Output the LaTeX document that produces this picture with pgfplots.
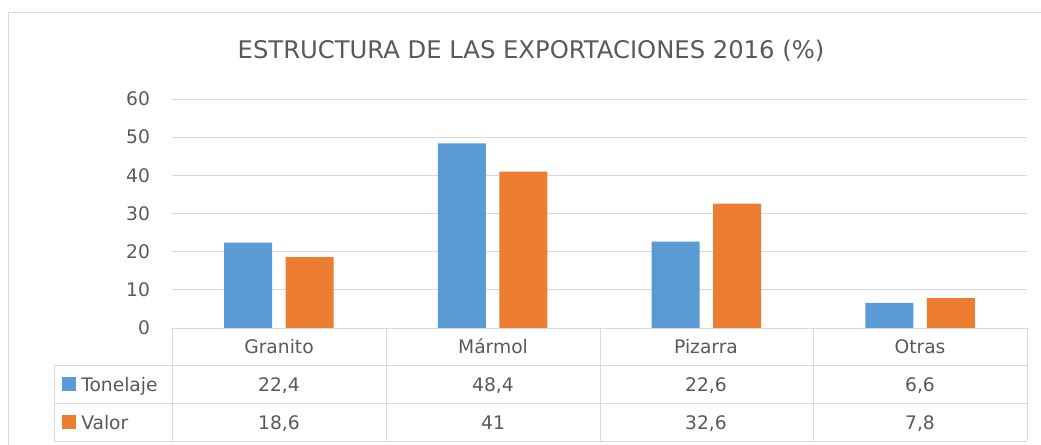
\documentclass[border=0pt]{standalone}
\usepackage{pgfplots}
\pgfplotsset{compat=1.18}
\usepackage{fontspec}
\setmainfont{DejaVu Sans}
\definecolor{txt}{HTML}{595959}
\definecolor{gridc}{HTML}{D9D9D9}
\definecolor{blu}{HTML}{5B9BD5}
\definecolor{ora}{HTML}{ED7D31}

\begin{document}
\begin{tikzpicture}
\useasboundingbox (0,0) rectangle (780.75pt,-333.75pt);
\begin{axis}[
    at={(129pt,-246pt)}, anchor=south west,
    scale only axis, width=641.25pt, height=171.75pt,
    xmin=-0.5, xmax=3.5, ymin=0, ymax=60,
    ytick={0,10,...,60}, xtick=\empty,
    ymajorgrids, grid style={gridc, line width=0.75pt},
    axis line style={draw=none},
    major tick length=0pt,
    tick label style={font=\fontsize{14}{16}\selectfont, text=txt},
    yticklabel style={xshift=-13pt},
    /pgf/number format/assume math mode=true,
    ybar, bar width=36pt,
    clip=false,
]
\addplot[fill=blu, draw=none, bar shift=-23pt] coordinates {(0,22.4) (1,48.4) (2,22.6) (3,6.6)};
\addplot[fill=ora, draw=none, bar shift=23pt] coordinates {(0,18.6) (1,41) (2,32.6) (3,7.8)};
\end{axis}
% data table below the plot, in pixel units
\begin{scope}[x=0.75pt, y=-0.75pt, every node/.style={text=txt, font=\fontsize{14}{16}\selectfont, inner sep=0pt}]
\draw[gridc, line width=0.75pt] (8,445) -- (8,13) -- (1041,13);
\draw[gridc, line width=0.75pt] (172,328) -- (1027,328);
\foreach \y in {365,403,441} \draw[gridc, line width=0.75pt] (54,\y) -- (1027,\y);
\foreach \x in {172,386,600,813,1027} \draw[gridc, line width=0.75pt] (\x,328) -- (\x,441);
\draw[gridc, line width=0.75pt] (54,365) -- (54,441);
\node[anchor=base, font=\fontsize{18.2}{21}\selectfont] at (531,59) {ESTRUCTURA DE LAS EXPORTACIONES 2016 (\%)};
\node[anchor=base] at (279,353) {Granito};
\node[anchor=base] at (493,353) {Mármol};
\node[anchor=base] at (706,353) {Pizarra};
\node[anchor=base] at (920,353) {Otras};
\node[anchor=base] at (279,391) {22,4};
\node[anchor=base] at (493,391) {48,4};
\node[anchor=base] at (706,391) {22,6};
\node[anchor=base] at (920,391) {6,6};
\node[anchor=base] at (279,429) {18,6};
\node[anchor=base] at (493,429) {41};
\node[anchor=base] at (706,429) {32,6};
\node[anchor=base] at (920,429) {7,8};
\fill[blu] (62,377) rectangle (76,391);
\fill[ora] (62,415) rectangle (76,429);
\node[anchor=base west] at (81,391) {Tonelaje};
\node[anchor=base west] at (81,429) {Valor};
\end{scope}
\end{tikzpicture}
\end{document}
